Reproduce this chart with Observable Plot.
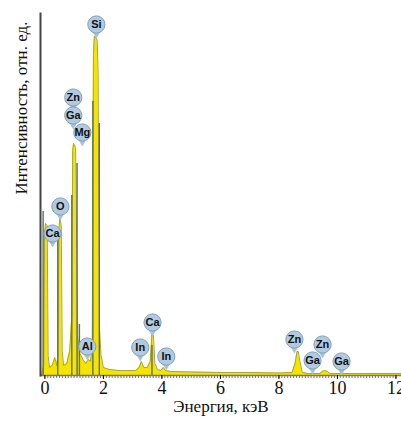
<!DOCTYPE html>
<html>
<head>
<meta charset="utf-8">
<script src="https://cdn.jsdelivr.net/npm/d3@7"></script>
<script src="https://cdn.jsdelivr.net/npm/@observablehq/plot@0.6"></script>
<style>
  html, body { margin: 0; padding: 0; background: white; overflow: hidden; }
  svg text { font-family: "Liberation Serif", "DejaVu Serif", serif; }
</style>
</head>
<body>
<div id="chart"></div>
<script>
// EDS spectrum (energy, keV) vs intensity (arb. units)
const specEnergy = [-0.12, -0.04, -0.01, 0.02, 0.08, 0.11, 0.16, 0.25, 0.34, 0.40, 0.45, 0.48, 0.51, 0.56, 0.59, 0.64, 0.75, 0.85, 0.92, 0.95, 0.98, 1.05, 1.09, 1.12, 1.16, 1.20, 1.24, 1.30, 1.40, 1.49, 1.56, 1.62, 1.66, 1.69, 1.72, 1.79, 1.82, 1.86, 1.92, 2.0, 2.2, 2.5, 2.8, 3.1, 3.22, 3.30, 3.38, 3.50, 3.60, 3.66, 3.71, 3.76, 3.85, 3.96, 4.05, 4.12, 4.3, 5.0, 6.0, 7.0, 8.0, 8.45, 8.55, 8.62, 8.66, 8.72, 8.80, 9.0, 9.4, 9.48, 9.56, 9.66, 9.74, 10.5, 12.2];
const specIntensity = [0, 10, 140, 152, 150, 20, 8, 10, 18, 10, 20, 145, 158, 150, 25, 10, 12, 25, 60, 225, 232, 228, 120, 40, 29, 22, 20, 16, 12, 16, 14, 30, 320, 339, 339, 335, 300, 50, 20, 8, 6, 5, 5, 5, 8, 14, 8, 8, 14, 42, 40, 12, 6, 5, 8, 5, 4, 3.5, 3, 3, 2.5, 3, 12, 24, 24, 14, 3, 2, 2, 4, 5, 4, 2, 2, 2];

// darker overlaid spectrum lines
const grayEnergy = [-0.06, 0.44, 0.92, 1.10, 1.18, 1.64, 1.86, 3.66];
const grayIntensity = [164, 137, 180, 212, 51, 274, 252, 30];

// element labels
const labelText = ["Si", "Zn", "Ga", "Mg", "O", "Ca", "Al", "In", "Ca", "In", "Zn", "Zn", "Ga", "Ga"];
const labelEnergy = [1.76, 0.97, 0.97, 1.28, 0.53, 0.26, 1.45, 3.26, 3.68, 4.15, 8.53, 9.49, 9.15, 10.14];
const labelIntensity = [351, 278, 260, 243, 169, 142, 29, 28, 53, 19, 36, 31, 15, 14];

const xTicks = [0, 2, 4, 6, 8, 10, 12];
const minorTicks = d3.range(0, 121).map(i => i / 10);

const spectrum = specEnergy.map((e, i) => ({e, v: specIntensity[i]}));
const gray = grayEnergy.map((e, i) => ({e, v: grayIntensity[i]}));
const labels = labelText.map((t, i) => ({t, e: labelEnergy[i], v: labelIntensity[i]}));

const serif = "\"Liberation Serif\", \"DejaVu Serif\", serif";
const sans = "\"Liberation Sans\", \"DejaVu Sans\", sans-serif";

const chart = Plot.plot({
  width: 401,
  height: 424,
  marginLeft: 40,
  marginRight: 0,
  marginTop: 13,
  marginBottom: 49,
  style: {fontFamily: serif, fontSize: "17px", background: "white"},
  x: {domain: [-0.15, 12.19], axis: null},
  y: {domain: [0, 362], axis: null},
  marks: [
    Plot.areaY(spectrum, {x: "e", y: "v", fill: "#f5e300", curve: "linear"}),
    Plot.lineY(spectrum, {x: "e", y: "v", stroke: "#a3a83a", strokeWidth: 1, curve: "linear"}),
    Plot.ruleX(gray, {x: "e", y1: 0, y2: "v", stroke: "#5d6e64", strokeWidth: 1.4}),
    Plot.ruleY([0], {stroke: "#777", strokeWidth: 1.5}),
    Plot.axisX({ticks: minorTicks, tickSize: 3, tickFormat: () => "", label: null, stroke: "#777"}),
    Plot.axisX({ticks: xTicks, tickSize: 4, tickPadding: 2, tickFormat: d => String(d), label: null, fontSize: 18, fontFamily: serif, fill: "#111"}),
    Plot.frame({anchor: "left", stroke: "#444", strokeWidth: 2}),
    Plot.dot(labels, {x: "e", y: "v", symbol: "triangle", r: 3.2, rotate: 180, dy: 9, fill: "#a9c2da"}),
    Plot.dot(labels, {x: "e", y: "v", r: 8.6, fill: "#b2cae0", stroke: "#7f9fbd", strokeWidth: 1}),
    Plot.text(labels, {x: "e", y: "v", text: "t", fontFamily: sans, fontWeight: "bold", fontSize: 11, fill: "#111"}),
    Plot.text(["Энергия, кэВ"], {frameAnchor: "bottom", dy: 36, fontSize: 17, fontFamily: serif, fill: "#111"}),
    Plot.text(["Интенсивность, отн. ед."], {frameAnchor: "left", rotate: -90, dx: -19, fontSize: 17, fontFamily: serif, fill: "#111"})
  ]
});
// serif for axis texts, bold sans for the element labels (inline styles)
d3.select(chart).selectAll("text").style("font-family", serif);
d3.select(chart).selectAll("g[font-weight='bold'] text").style("font-family", sans);
document.getElementById("chart").appendChild(chart);
</script>
</body>
</html>
